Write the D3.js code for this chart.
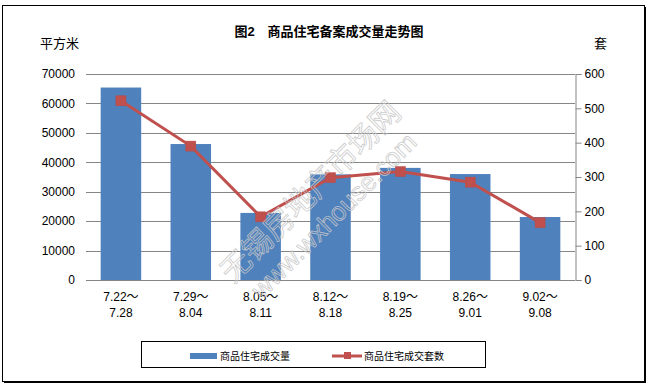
<!DOCTYPE html>
<html><head><meta charset="utf-8">
<script src="https://cdn.jsdelivr.net/npm/d3@7"></script>
<style>body{margin:0;background:#fff}svg{display:block}text{font-family:"Liberation Sans","Noto Sans CJK SC",sans-serif}</style>
</head><body>
<script>
const categories = [["7.22～","7.28"],["7.29～","8.04"],["8.05～","8.11"],["8.12～","8.18"],["8.19～","8.25"],["8.26～","9.01"],["9.02～","9.08"]];
const areaValues = [65400, 46200, 22800, 35900, 38100, 36000, 21400];
const unitValues = [522, 390, 184, 298, 316, 285, 167];
const leftTicks = [0,10000,20000,30000,40000,50000,60000,70000];
const rightTicks = [0,100,200,300,400,500,600];
const title = "图2　商品住宅备案成交量走势图";
const seriesNames = ["商品住宅成交量","商品住宅成交套数"];

const W=648,H=385;
const svg=d3.select("body").append("svg").attr("width",W).attr("height",H);
const cjk='"Noto Sans CJK SC",sans-serif';

// outer border
svg.append("rect").attr("x",4).attr("y",7).attr("width",642).attr("height",376).attr("fill","#000");
svg.append("rect").attr("x",2.5).attr("y",5.5).attr("width",642).attr("height",376).attr("fill","#fff").attr("stroke","#000").attr("stroke-width",1);

const x0=86,x1=575,yTop=74,yBot=280;
const x=d3.scaleBand().domain(d3.range(categories.length)).range([x0,x1]).paddingInner(0.42).paddingOuter(0.21);
const yL=d3.scaleLinear().domain([0,70000]).range([yBot,yTop]);
const yR=d3.scaleLinear().domain([0,600]).range([yBot,yTop]);

// gridlines
svg.append("g").selectAll("line").data(leftTicks.slice(1)).join("line")
  .attr("x1",x0).attr("x2",x1).attr("y1",d=>Math.round(yL(d))+0.5).attr("y2",d=>Math.round(yL(d))+0.5)
  .attr("stroke","#868686");

// left axis
const gl=svg.append("g").attr("transform",`translate(${x0},0)`)
  .call(d3.axisLeft(yL).tickValues(leftTicks).tickSize(0).tickPadding(11).tickFormat(d3.format("d")));
gl.select(".domain").remove();
gl.selectAll("text").attr("font-size",12).attr("fill","#000");

// bars
svg.append("g").selectAll("rect").data(areaValues).join("rect")
  .attr("x",(d,i)=>x(i)).attr("width",x.bandwidth())
  .attr("y",d=>yL(d)).attr("height",d=>yBot-yL(d)).attr("fill","#4F81BD");

// bottom axis line
svg.append("line").attr("x1",x0).attr("x2",x1).attr("y1",yBot+0.5).attr("y2",yBot+0.5).attr("stroke","#868686");

// right axis
const gr=svg.append("g").attr("transform",`translate(${x1+0.5},0)`)
  .call(d3.axisRight(yR).tickValues(rightTicks).tickSize(6).tickPadding(3).tickFormat(d3.format("d")));
gr.select(".domain").attr("stroke","#868686");
gr.selectAll(".tick line").attr("stroke","#868686");
gr.selectAll("text").attr("font-size",12).attr("fill","#000");

// line
const cx=i=>x(i)+x.bandwidth()/2;
svg.append("path").datum(unitValues)
  .attr("d",d3.line().x((d,i)=>cx(i)).y(d=>yR(d)))
  .attr("fill","none").attr("stroke","#C0504D").attr("stroke-width",3);
svg.append("g").selectAll("rect").data(unitValues).join("rect")
  .attr("x",(d,i)=>cx(i)-5).attr("y",d=>yR(d)-5).attr("width",10).attr("height",10)
  .attr("fill","#C0504D").attr("stroke","#B94A47").attr("stroke-width",0.5);

// category labels
const cl=svg.append("g");
categories.forEach((c,i)=>{
  cl.append("text").attr("x",cx(i)).attr("y",301).attr("text-anchor","middle").attr("font-size",12).text(c[0]);
  cl.append("text").attr("x",cx(i)).attr("y",317).attr("text-anchor","middle").attr("font-size",12).text(c[1]);
});

// watermark
const wm=svg.append("g").attr("fill","none").attr("stroke","#c8c8c8").attr("stroke-width",0.8).attr("opacity",0.9);
wm.append("text").attr("transform","translate(233,284) rotate(-45)").attr("font-size",30).attr("font-family",cjk).text("无锡房地产市场网");
wm.append("text").attr("transform","translate(262,300) rotate(-45)").attr("font-size",26).attr("font-family","Liberation Sans,sans-serif").text("www.wxhouse.com");

// title & units
svg.append("text").attr("x",329).attr("y",36).attr("text-anchor","middle").attr("font-size",13).attr("font-weight","bold").attr("font-family",cjk).text(title);
svg.append("text").attr("x",40).attr("y",48).attr("font-size",13).attr("font-family",cjk).text("平方米");
svg.append("text").attr("x",594).attr("y",48).attr("font-size",13).attr("font-family",cjk).text("套");

// legend
svg.append("rect").attr("x",141.5).attr("y",341.5).attr("width",344).attr("height",26).attr("fill","#fff").attr("stroke","#000");
svg.append("rect").attr("x",190).attr("y",353).attr("width",27).attr("height",6).attr("fill","#4F81BD");
svg.append("text").attr("x",220).attr("y",359.5).attr("font-size",10).attr("font-family",cjk).text(seriesNames[0]);
svg.append("line").attr("x1",332).attr("x2",362).attr("y1",356).attr("y2",356).attr("stroke","#C0504D").attr("stroke-width",3);
svg.append("rect").attr("x",344).attr("y",352).attr("width",7).attr("height",7).attr("fill","#C0504D");
svg.append("text").attr("x",364).attr("y",359.5).attr("font-size",10).attr("font-family",cjk).text(seriesNames[1]);
</script>
</body></html>
